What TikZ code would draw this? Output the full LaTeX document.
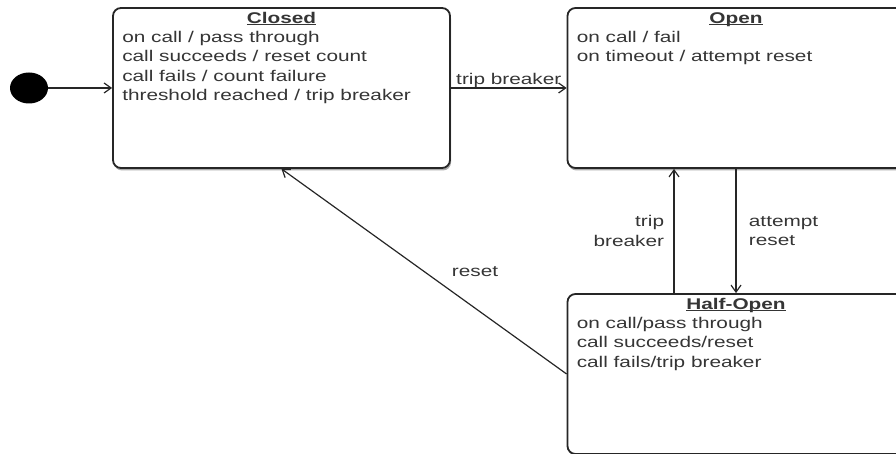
\documentclass[tikz,border=0pt]{standalone}
\usepackage{fontspec}
\setmainfont[FakeStretch=1.34]{Liberation Sans}
\usetikzlibrary{
arrows.meta,
positioning,
shapes.geometric,
shadows
}
\definecolor{StateLine}{HTML}{262626}
\definecolor{StateText}{HTML}{353535}
\newcommand{\statename}[1]{\underline{\smash{\textbf{#1}}}}

\begin{document}
\begin{tikzpicture}[x=1pt, y=-1pt,
    every node/.style={font=\fontsize{15.5}{19.3}\selectfont, text=StateText},
    stbox/.style={draw=StateLine, line width=1.8pt, rounded corners=8pt, fill=white,
        minimum width=337pt, minimum height=160pt, inner sep=0pt,
        drop shadow={shadow xshift=1pt, shadow yshift=-2.5pt, fill=black!60, opacity=0.55}},
    stitle/.style={anchor=base, inner sep=0pt},
    stbody/.style={anchor=north west, align=left, inner sep=0pt},
    transition/.style={draw=StateLine, line width=1.2pt, -{Straight Barb[length=7pt, width=10pt]}}]
        \useasboundingbox (0,0) rectangle (896,454);
        \clip (0,0) rectangle (896,454);

        % Initial pseudo state
        \node[ellipse, fill=black, minimum width=38pt, minimum height=31pt, inner sep=0pt] (init) at (29,88) {};

        % Closed state
        \node[stbox] (closed) at (281.5,88) {};
        \node[stitle] (closedtitle) at ([yshift=-16pt]closed.north) {\statename{Closed}};
        \node[stbody] (closedbody) at ([xshift=10pt, yshift=-24pt]closed.north west)
            {on call / pass through\\call succeeds / reset count\\call fails / count failure\\threshold reached / trip breaker};

        % Open state
        \node[stbox] (open) at (736,88) {};
        \node[stitle] (opentitle) at ([yshift=-16pt]open.north) {\statename{Open}};
        \node[stbody] (openbody) at ([xshift=10pt, yshift=-24pt]open.north west)
            {on call / fail\\on timeout / attempt reset};

        % Half-Open state
        \node[stbox] (halfopen) at (736,374) {};
        \node[stitle] (halfopentitle) at ([yshift=-16pt]halfopen.north) {\statename{Half-Open}};
        \node[stbody] (halfopenbody) at ([xshift=10pt, yshift=-24pt]halfopen.north west)
            {on call/pass through\\call succeeds/reset\\call fails/trip breaker};

        % Transitions
        \draw[transition] (init) -- (closed);
        \draw[transition] (closed) -- node[above, inner sep=0pt] (tripclosed) {trip breaker} (open);
        \draw[transition] (open) -- node[right=9pt, align=left] (attemptreset) {attempt\\reset} (halfopen);
        \draw[transition] ([xshift=-62pt]halfopen.north) -- node[left=6pt, align=right] (triphalf) {trip\\breaker} ([xshift=-62pt]open.south);
        \draw[transition] (halfopen.west) -- node[right=24pt] (resetlabel) {reset} (closed.south);

    \end{tikzpicture}
\end{document}
